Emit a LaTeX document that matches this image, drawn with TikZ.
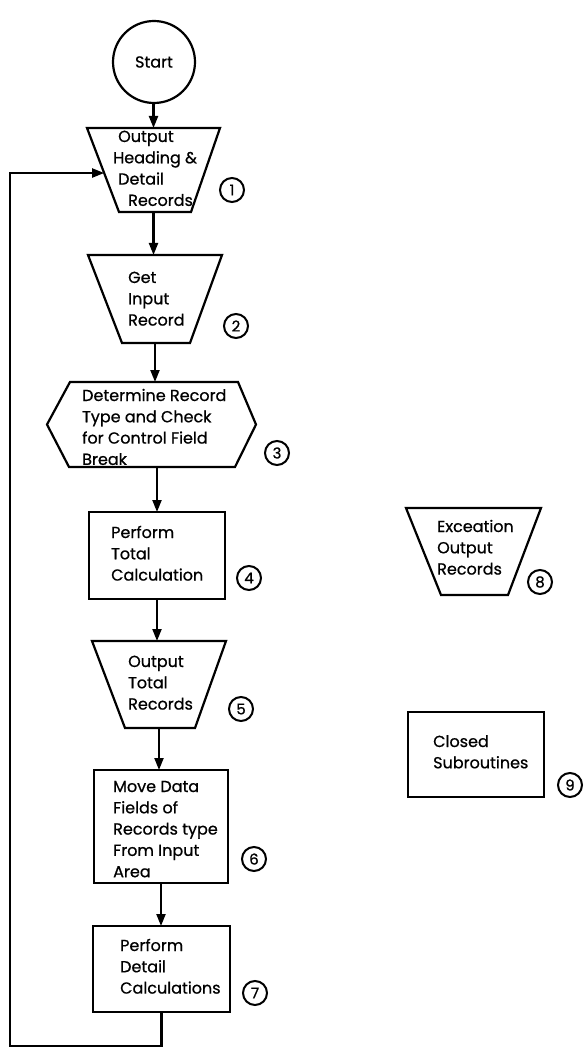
\documentclass[tikz,border=0pt]{standalone}
\usepackage{fontspec}
\setmainfont{Poppins}[UprightFeatures={FakeBold=0.7}]
\usetikzlibrary{arrows.meta,calc}

% left-aligned block of lines whose baseline is the first line's baseline
\newcommand{\txtlines}[1]{\begin{tabular}[t]{@{}l@{}}#1\end{tabular}}
% outline of an inverted trapezoid drawn on a named frame node: #2/#3 = left/right inset at the bottom
\newcommand{\trapoutline}[3]{\draw[outline] (#1.north west) -- (#1.north east) -- ([xshift=-#3pt]#1.south east) -- ([xshift=#2pt]#1.south west) -- cycle;}

\begin{document}
\begin{tikzpicture}[x=1pt, y=-1pt,
  frame/.style={inner sep=0pt, outer sep=0pt},
  outline/.style={draw, line width=2.2pt, line join=miter},
  procbox/.style={frame, draw, line width=2.2pt},
  flow/.style={line width=2.1pt, -{Triangle[length=12pt,width=9pt]}},
  label/.style={font=\fontsize{16}{21.3}\selectfont, inner sep=0pt, anchor=base west},
  stepnum/.style={circle, draw, line width=2pt, minimum size=24pt, inner sep=0pt,
                  font=\fontsize{15}{15}\selectfont},
  terminal/.style={circle, draw, line width=2.2pt, minimum size=82pt, inner sep=0pt,
                   font=\fontsize{16}{20}\selectfont}]
\useasboundingbox (0,0) rectangle (583,1048);

% ---- main column ----
\node[terminal] (start) at (154,62) {Start};

\node[frame, minimum width=133pt, minimum height=84pt] (t1) at (153.5,170) {};
\trapoutline{t1}{32}{29}
\node[label] (t1txt) at (113,142) {\txtlines{\hspace*{5pt}Output\\Heading \&\\\hspace*{5pt}Detail\\\hspace*{15pt}Records}};

\node[frame, minimum width=134pt, minimum height=88pt] (t2) at (155,299) {};
\trapoutline{t2}{34}{32}
\node[label] (t2txt) at (128,283) {\txtlines{Get\\Input\\Record}};

\node[frame, minimum width=209pt, minimum height=85pt] (h3) at (151.5,424.5) {};
\draw[outline] (h3.west) -- ([xshift=23pt]h3.north west) -- ([xshift=-18pt]h3.north east)
  -- (h3.east) -- ([xshift=-21pt]h3.south east) -- ([xshift=22pt]h3.south west) -- cycle;
\node[label] (h3txt) at (82,401) {\txtlines{Determine Record\\Type and Check\\for Control Field\\Break}};

\node[procbox, minimum width=136pt, minimum height=87pt] (b4) at (157,555.5) {};
\node[label] (b4txt) at (111,538) {\txtlines{Perform\\Total\\Calculation}};

\node[frame, minimum width=134pt, minimum height=87pt] (t5) at (159,684.5) {};
\trapoutline{t5}{33}{31}
\node[label] (t5txt) at (128,667) {\txtlines{Output\\Total\\Records}};

\node[procbox, minimum width=134pt, minimum height=113pt] (b6) at (161,826.5) {};
\node[label] (b6txt) at (113,792) {\txtlines{Move Data\\Fields of\\Records type\\From Input\\Area}};

\node[procbox, minimum width=137pt, minimum height=86pt] (b7) at (161.5,969) {};
\node[label] (b7txt) at (120,951) {\txtlines{Perform\\Detail\\Calculations}};

% ---- right column ----
\node[frame, minimum width=135pt, minimum height=87pt] (t8) at (473.5,551.5) {};
\trapoutline{t8}{35}{33}
\node[label] (t8txt) at (437,532) {\txtlines{Exceation\\Output\\Records}};

\node[procbox, minimum width=136pt, minimum height=85pt] (b9) at (476,754.5) {};
\node[label] (b9txt) at (433,747) {\txtlines{Closed\\Subroutines}};

% ---- step numbers ----
\node[stepnum] (n1) at (232,190) {1};
\node[stepnum] (n2) at (236,326) {2};
\node[stepnum] (n3) at (277,453) {3};
\node[stepnum] (n4) at (249,578) {4};
\node[stepnum] (n5) at (241,709) {5};
\node[stepnum] (n6) at (254,859) {6};
\node[stepnum] (n7) at (255,993) {7};
\node[stepnum] (n8) at (540,582) {8};
\node[stepnum] (n9) at (570,785) {9};

% ---- flow lines ----
\draw[flow] (t1.north |- start.south) -- (t1.north);
\draw[flow] (t1.south) -- (t1.south |- t2.north);
\draw[flow] (t2.south) -- (t2.south |- h3.north);
\draw[flow] (b4.north |- h3.south) -- (b4.north);
\draw[flow] (b4.south) -- (b4.south |- t5.north);
\draw[flow] (t5.south) -- (t5.south |- b6.north);
\draw[flow] (b6.south) -- (b6.south |- b7.north);

% loop back to the first output step
\coordinate (turn) at (10,1046);
\coordinate (entry) at ($(t1.north west)!0.536!([xshift=32pt]t1.south west)$);
\draw[flow] (b7.south) |- (turn) |- (entry);
\end{tikzpicture}
\end{document}
